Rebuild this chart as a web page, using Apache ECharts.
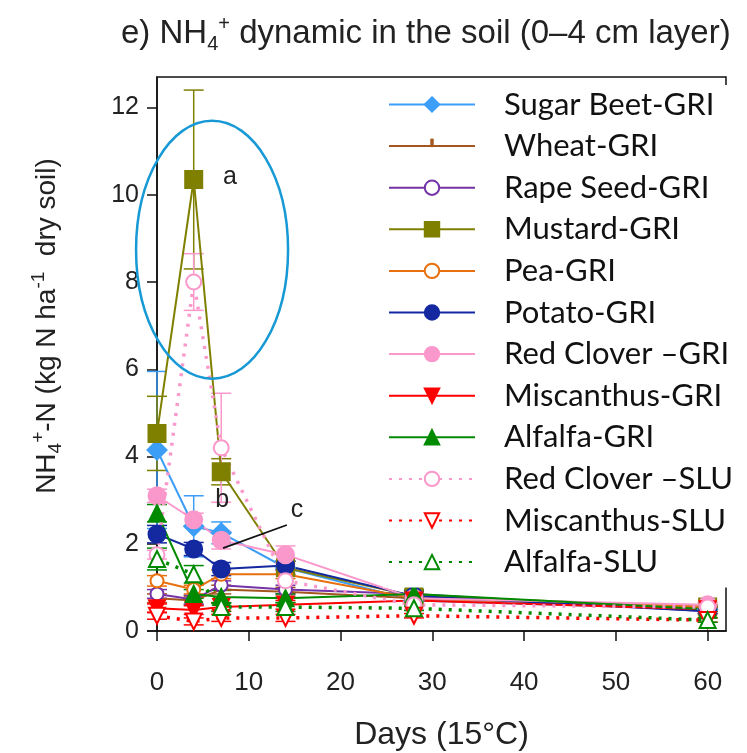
<!DOCTYPE html>
<html>
<head>
<meta charset="utf-8">
<script src="https://cdn.jsdelivr.net/npm/echarts@6/dist/echarts.min.js"></script>
<style>
  html, body { margin: 0; padding: 0; background: #fff; }
  #chart { width: 747px; height: 753px; }
</style>
</head>
<body>
<div id="chart"></div>
<script>
// sampling days
var days = [0, 4, 7, 14, 28, 60];

// NH4+-N values (kg N / ha dry soil)
var sugarBeetGri = [4.15, 2.4, 2.25, 1.45, 0.7, 0.5];
var wheatGri = [0.75, 0.7, 0.95, 0.9, 0.75, 0.55];
var rapeSeedGri = [0.85, 0.72, 1.05, 0.95, 0.85, 0.45];
var mustardGri = [4.53, 10.35, 3.65, 1.45, 0.8, 0.55];
var peaGri = [1.15, 0.95, 1.3, 1.3, 0.75, 0.55];
var potatoGri = [2.22, 1.88, 1.42, 1.5, 0.8, 0.45];
var redCloverGri = [3.1, 2.55, 2.08, 1.75, 0.75, 0.6];
var miscanthusGri = [0.52, 0.48, 0.55, 0.6, 0.7, 0.5];
var alfalfaGri = [2.7, 0.85, 0.78, 0.75, 0.85, 0.5];
var redCloverSlu = [1.75, 8.0, 4.2, 1.15, 0.6, 0.55];
var miscanthusSlu = [0.35, 0.22, 0.3, 0.3, 0.35, 0.25];
var alfalfaSlu = [1.65, 1.3, 0.55, 0.55, 0.52, 0.25];

// standard errors
var sugarBeetErr = [1.8, 0.7, 0.25, 0.15, 0.1, 0.05];
var wheatErr = [0.1, 0.1, 0.1, 0.1, 0.08, 0.05];
var rapeSeedErr = [0.1, 0.1, 0.1, 0.1, 0.08, 0.05];
var mustardErr = [0.85, 2.05, 0.3, 0.15, 0.1, 0.05];
var peaErr = [0.12, 0.1, 0.1, 0.1, 0.08, 0.05];
var potatoErr = [0.2, 0.15, 0.15, 0.1, 0.1, 0.05];
var redCloverErr = [0.15, 0.15, 0.2, 0.2, 0.1, 0.05];
var miscanthusErr = [0.1, 0.1, 0.1, 0.1, 0.08, 0.05];
var alfalfaErr = [0.2, 0.1, 0.15, 0.1, 0.1, 0.05];
var redCloverSluErr = [0.1, 0.65, 1.25, 0.2, 0.1, 0.05];
var miscanthusSluErr = [0.08, 0.08, 0.08, 0.08, 0.05, 0.05];
var alfalfaSluErr = [0.25, 0.2, 0.1, 0.1, 0.05, 0.05];

var yTicks = [0, 2, 4, 6, 8, 10, 12];
var xTicks = [0, 10, 20, 30, 40, 50, 60];

var defs = [
	{ name: 'Sugar Beet-GRI', values: sugarBeetGri, err: sugarBeetErr, color: '#3d9ef7', symbol: 'diamond', size: 19, dotted: false },
	{ name: 'Wheat-GRI', values: wheatGri, err: wheatErr, color: '#a4561f', symbol: 'path://M0,0M9,1h2v9h-2zM20,20', size: 14, dotted: false },
	{ name: 'Rape Seed-GRI', values: rapeSeedGri, err: rapeSeedErr, color: '#7434a8', symbol: 'emptyCircle', size: 13, dotted: false },
	{ name: 'Mustard-GRI', values: mustardGri, err: mustardErr, color: '#7f7f00', symbol: 'rect', size: 17, dotted: false },
	{ name: 'Pea-GRI', values: peaGri, err: peaErr, color: '#e8700e', symbol: 'emptyCircle', size: 13, dotted: false },
	{ name: 'Potato-GRI', values: potatoGri, err: potatoErr, color: '#1428a0', symbol: 'circle', size: 17, dotted: false },
	{ name: 'Red Clover \u2013GRI', values: redCloverGri, err: redCloverErr, color: '#fb98cb', symbol: 'circle', size: 17, dotted: false },
	{ name: 'Miscanthus-GRI', values: miscanthusGri, err: miscanthusErr, color: '#ff0000', symbol: 'triangle', rotate: 180, size: 16, dotted: false },
	{ name: 'Alfalfa-GRI', values: alfalfaGri, err: alfalfaErr, color: '#008a00', symbol: 'triangle', size: 16, dotted: false },
	{ name: 'Red Clover \u2013SLU', values: redCloverSlu, err: redCloverSluErr, color: '#fb98cb', symbol: 'emptyCircle', size: 15, dotted: true },
	{ name: 'Miscanthus-SLU', values: miscanthusSlu, err: miscanthusSluErr, color: '#ff0000', symbol: 'emptyTriangle', rotate: 180, size: 16, dotted: true },
	{ name: 'Alfalfa-SLU', values: alfalfaSlu, err: alfalfaSluErr, color: '#008a00', symbol: 'emptyTriangle', size: 16, dotted: true }
];

// annotations, in data units (day, value)
var ellipseCenter = [6.0, 8.74];
var letterA = [7.95, 10.4];
var letterB = [7.1, 3.0];
var letterC = [15.25, 2.78];
var pointerFrom = [14.15, 2.43];
var pointerTo = [7.2, 1.9];

var series = [];
defs.forEach(function(d) {
	var pts = days.map(function(x, i) { return [x, d.values[i], d.err[i]]; });
	series.push({
		type: 'custom',
		name: d.name + ' err',
		silent: true,
		z: 1,
		renderItem: function(params, api) {
			var x = api.value(0), y = api.value(1), e = api.value(2);
			var top = api.coord([x, y + e]);
			var bot = api.coord([x, Math.max(0, y - e)]);
			var style = { stroke: d.color, lineWidth: 1.5 };
			return {
				type: 'group',
				children: [
					{ type: 'line', shape: { x1: top[0], y1: top[1], x2: bot[0], y2: bot[1] }, style: style },
					{ type: 'line', shape: { x1: top[0] - 10, y1: top[1], x2: top[0] + 10, y2: top[1] }, style: style },
					{ type: 'line', shape: { x1: bot[0] - 10, y1: bot[1], x2: bot[0] + 10, y2: bot[1] }, style: style }
				]
			};
		},
		data: pts
	});
	series.push({
		type: 'line',
		name: d.name,
		z: 3,
		symbol: d.symbol,
		symbolSize: d.size,
		symbolRotate: d.rotate || 0,
		showAllSymbol: true,
		itemStyle: { color: d.color, borderColor: d.color, borderWidth: 2 },
		lineStyle: d.dotted
			? { color: d.color, width: 3.5, type: [3, 7] }
			: { color: d.color, width: 2 },
		data: days.map(function(x, i) { return [x, d.values[i]]; })
	});
});

var chart = echarts.init(document.getElementById('chart'));

chart.setOption({
	animation: false,
	title: {
		text: 'e) NH{sub|4}{sup|+} dynamic in the soil (0\u20134 cm layer)',
		left: 116,
		top: 9,
		textStyle: {
			fontFamily: 'Liberation Sans',
			fontSize: 33,
			fontWeight: 'normal',
			color: '#222',
			lineHeight: 40,
			rich: {
				sub: { fontFamily: 'Liberation Sans', fontSize: 20, color: '#222', verticalAlign: 'bottom', lineHeight: 20 },
				sup: { fontFamily: 'Liberation Sans', fontSize: 20, color: '#222', verticalAlign: 'top', lineHeight: 20 }
			}
		}
	},
	legend: {
		data: defs.map(function(d) { return d.name; }),
		orient: 'vertical',
		left: 383,
		top: 85,
		padding: [4, 20, 10, 5],
		backgroundColor: '#fff',
		z: 5,
		itemWidth: 86,
		itemHeight: 18,
		itemGap: 10.6,
		textStyle: { fontFamily: 'Lato', fontSize: 31, color: '#111', padding: [0, 0, 0, 24] }
	},
	grid: {
		left: 157,
		right: 21,
		top: 77,
		bottom: 122,
		outerBoundsMode: 'none',
		show: true,
		borderColor: '#111',
		borderWidth: 1.5
	},
	xAxis: {
		type: 'value',
		min: 0,
		max: 62,
		interval: 10,
		name: 'Days (15\u00b0C)',
		nameLocation: 'middle',
		nameGap: 88,
		nameTextStyle: { fontFamily: 'Liberation Sans', fontSize: 32, color: '#222', verticalAlign: 'top' },
		axisLine: { lineStyle: { color: '#111', width: 1.5 } },
		axisTick: { length: 10, customValues: xTicks, lineStyle: { color: '#111', width: 1.5 } },
		axisLabel: { margin: 39, customValues: xTicks, fontFamily: 'Liberation Sans', fontSize: 26, color: '#222' },
		splitLine: { show: false }
	},
	yAxis: {
		type: 'value',
		min: 0,
		max: 12.7,
		interval: 2,
		name: '{n|NH}{sub|4}{sup|+}{n|-N (kg N ha}{sup|-1}{n|  dry soil)}',
		nameLocation: 'middle',
		nameGap: 92,
		nameRotate: 90,
		nameTextStyle: {
			color: '#222',
			padding: [0, 0, 0, 56],
			rich: {
				n: { fontFamily: 'Liberation Sans', fontSize: 28, color: '#222', lineHeight: 36 },
				sub: { fontFamily: 'Liberation Sans', fontSize: 19, color: '#222', verticalAlign: 'bottom', lineHeight: 20 },
				sup: { fontFamily: 'Liberation Sans', fontSize: 19, color: '#222', verticalAlign: 'top', lineHeight: 20 }
			}
		},
		axisLine: { show: true, lineStyle: { color: '#111', width: 1.5 } },
		axisTick: { show: true, length: 10, customValues: yTicks, lineStyle: { color: '#111', width: 1.5 } },
		axisLabel: { margin: 18, customValues: yTicks, fontFamily: 'Liberation Sans', fontSize: 25, color: '#222' },
		splitLine: { show: false }
	},
	series: series
});

// annotations placed from data coordinates
function px(p) { return chart.convertToPixel({ gridIndex: 0 }, p); }
var c = px(ellipseCenter), a = px(letterA), b = px(letterB), cc = px(letterC);
var p1 = px(pointerFrom), p2 = px(pointerTo), o = px([0, 0]);
var letterStyle = { fontFamily: 'Liberation Sans', fontSize: 25, fill: '#222', align: 'center', verticalAlign: 'middle' };
chart.setOption({
	graphic: [
		{ type: 'ellipse', shape: { cx: c[0], cy: c[1], rx: 76, ry: 129 }, style: { fill: 'none', stroke: '#1699d4', lineWidth: 2.5 }, z: 10 },
		{ type: 'text', x: a[0], y: a[1], style: Object.assign({ text: 'a' }, letterStyle), z: 10 },
		{ type: 'text', x: b[0], y: b[1], style: Object.assign({ text: 'b' }, letterStyle), z: 10 },
		{ type: 'text', x: cc[0], y: cc[1], style: Object.assign({ text: 'c' }, letterStyle), z: 10 },
		{ type: 'line', shape: { x1: p1[0], y1: p1[1], x2: p2[0], y2: p2[1] }, style: { stroke: '#111', lineWidth: 1.8 }, z: 10 },
		{ type: 'line', shape: { x1: o[0] - 10, y1: o[1], x2: o[0], y2: o[1] }, style: { stroke: '#111', lineWidth: 1.5 }, z: 10 }
	]
});
</script>
</body>
</html>
